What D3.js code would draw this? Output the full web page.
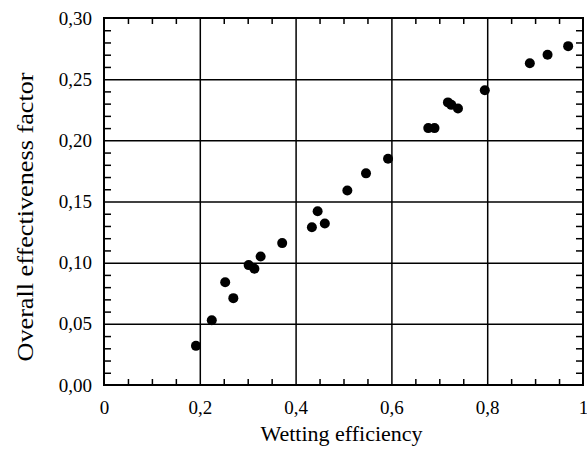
<!DOCTYPE html>
<html>
<head>
<meta charset="utf-8">
<script src="https://cdn.jsdelivr.net/npm/d3@7"></script>
<style>
	body { margin: 0; background: #fff; }
	svg { display: block; }
</style>
</head>
<body>
<div id="chart"></div>
<script>
// wetting efficiency vs overall effectiveness factor
const wetting = [0.192, 0.225, 0.253, 0.270, 0.302, 0.314, 0.327, 0.372, 0.434, 0.446, 0.461,
	0.508, 0.547, 0.593, 0.677, 0.690, 0.718, 0.725, 0.739, 0.795, 0.889, 0.926, 0.969];
const effectiveness = [0.032, 0.053, 0.084, 0.071, 0.098, 0.095, 0.105, 0.116, 0.129, 0.142, 0.132,
	0.159, 0.173, 0.185, 0.210, 0.210, 0.231, 0.229, 0.226, 0.241, 0.263, 0.270, 0.277];
const x_ticks = [0, 0.2, 0.4, 0.6, 0.8, 1];
const y_ticks = [0, 0.05, 0.1, 0.15, 0.2, 0.25, 0.3];

const width = 587;
const height = 451;
const margin = { top: 18, right: 4, bottom: 66, left: 104 };
const font = '"Liberation Serif", "Times New Roman", serif';

const x = d3.scaleLinear().domain([0, 1]).range([margin.left, width - margin.right]);
const y = d3.scaleLinear().domain([0, 0.3]).range([height - margin.bottom, margin.top]);
const plot_w = width - margin.left - margin.right;
const plot_h = height - margin.top - margin.bottom;

const comma = (n, digits) => n === 0 && digits === 1 ? '0'
	: n === 1 ? '1' : d3.format('.' + digits + 'f')(n).replace('.', ',');

const svg = d3.select('#chart').append('svg')
	.attr('width', width)
	.attr('height', height);

// minor ticks (inward)
const x_minor = d3.range(0.05, 1, 0.05).filter(v => Math.abs(v * 5 - Math.round(v * 5)) > 1e-6);
const y_minor = d3.range(0.01, 0.3, 0.01).filter(v => Math.abs(v * 20 - Math.round(v * 20)) > 1e-6);

const minor = (g) => g.call(g => g.select('.domain').remove())
	.call(g => g.selectAll('line').attr('stroke', '#000').attr('stroke-width', 1.5));

svg.append('g').attr('transform', `translate(0,${y(0)})`)
	.call(d3.axisBottom(x).tickValues(x_minor).tickSize(-6).tickFormat(''))
	.call(minor);
svg.append('g').attr('transform', `translate(0,${y(0.3)})`)
	.call(d3.axisTop(x).tickValues(x_minor).tickSize(-6).tickFormat(''))
	.call(minor);
svg.append('g').attr('transform', `translate(${x(0)},0)`)
	.call(d3.axisLeft(y).tickValues(y_minor).tickSize(-7).tickFormat(''))
	.call(minor);
svg.append('g').attr('transform', `translate(${x(1)},0)`)
	.call(d3.axisRight(y).tickValues(y_minor).tickSize(-7).tickFormat(''))
	.call(minor);

// grid
svg.append('g').attr('transform', `translate(0,${y(0)})`)
	.call(d3.axisBottom(x).tickValues(x_ticks.slice(1, -1)).tickSize(-plot_h).tickFormat(''))
	.call(minor);
svg.append('g').attr('transform', `translate(${x(0)},0)`)
	.call(d3.axisLeft(y).tickValues(y_ticks.slice(1, -1)).tickSize(-plot_w).tickFormat(''))
	.call(minor);

// frame
svg.append('rect')
	.attr('x', x(0))
	.attr('y', y(0.3))
	.attr('width', plot_w)
	.attr('height', plot_h)
	.attr('fill', 'none')
	.attr('stroke', '#000')
	.attr('stroke-width', 2);

// tick labels
const x_axis = svg.append('g').attr('transform', `translate(0,${y(0)})`)
	.call(d3.axisBottom(x).tickValues(x_ticks).tickSize(0).tickPadding(16).tickFormat(d => comma(d, 1)));
x_axis.select('.domain').remove();
x_axis.selectAll('text').attr('font-family', font).attr('font-size', 19).attr('fill', '#000');

const y_axis = svg.append('g').attr('transform', `translate(${x(0)},0)`)
	.call(d3.axisLeft(y).tickValues(y_ticks).tickSize(0).tickPadding(12).tickFormat(d => comma(d, 2)));
y_axis.select('.domain').remove();
y_axis.selectAll('text').attr('font-family', font).attr('font-size', 19).attr('fill', '#000');

// points
svg.append('g')
	.selectAll('circle')
	.data(wetting.map((w, i) => ({ w, e: effectiveness[i] })))
	.enter()
	.append('circle')
	.attr('cx', d => x(d.w))
	.attr('cy', d => y(d.e))
	.attr('r', 5)
	.attr('fill', '#000');

// titles
svg.append('text')
	.attr('x', (x(0) + x(1)) / 2 - 2)
	.attr('y', 441)
	.attr('text-anchor', 'middle')
	.attr('font-family', font)
	.attr('font-size', 22)
	.text('Wetting efficiency');

svg.append('text')
	.attr('transform', 'translate(33,217) rotate(-90)')
	.attr('text-anchor', 'middle')
	.attr('font-family', font)
	.attr('font-size', 23)
	.attr('textLength', 289)
	.attr('lengthAdjust', 'spacingAndGlyphs')
	.text('Overall effectiveness factor');
</script>
</body>
</html>
